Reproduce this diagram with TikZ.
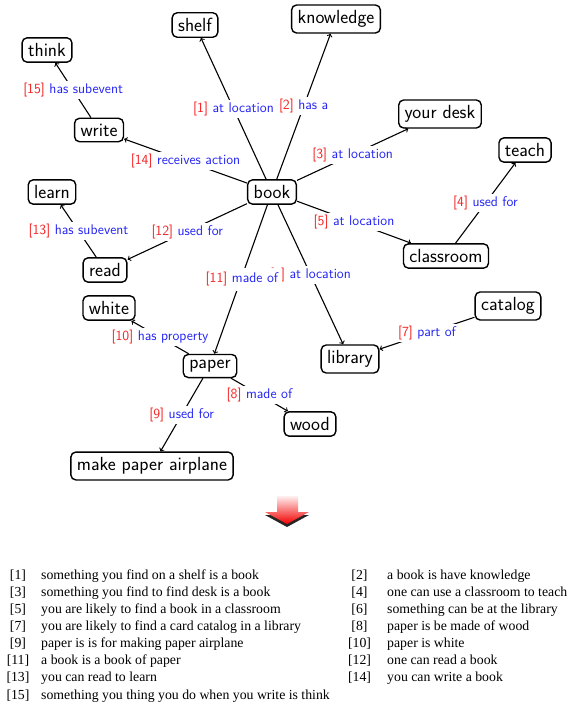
\documentclass[tikz,border=0pt]{standalone}
\usepackage{fontspec}
\newfontfamily\legendfont{Liberation Serif}
\definecolor{lred}{RGB}{245,35,35}
\definecolor{lblue}{RGB}{35,35,245}
\newcommand\lab[2]{\textcolor{lred}{[#1]} \textcolor{lblue}{#2}}
\begin{document}
\begin{tikzpicture}[x=1pt,y=-1pt,
  concept/.style={draw,rounded corners=5pt,line width=1.4pt,font=\fontsize{19}{21}\selectfont\sffamily,inner xsep=6pt,inner ysep=5.5pt,fill=white},
  edge/.style={line width=1.1pt,-to},
  lbl/.style={fill=white,inner sep=2pt,font=\fontsize{14}{16}\selectfont\sffamily},
  legnum/.style={anchor=base,inner sep=0pt,font=\legendfont\fontsize{13.8}{16}\selectfont},
  legtxt/.style={anchor=base west,inner sep=0pt,font=\legendfont\fontsize{13.8}{16}\selectfont},
]
\useasboundingbox (0,0) rectangle (571,704);
% concepts
\node[concept] (shelf) at (195,25) {shelf};
\node[concept] (knowledge) at (336,19) {knowledge};
\node[concept] (think) at (47,50) {think};
\node[concept] (write) at (99,130) {write};
\node[concept] (desk) at (440,114) {your desk};
\node[concept] (teach) at (525,150) {teach};
\node[concept] (book) at (272,192) {book};
\node[concept] (learn) at (52,192) {learn};
\node[concept] (read) at (105,270) {read};
\node[concept] (classroom) at (446,256) {classroom};
\node[concept] (catalog) at (508,306) {catalog};
\node[concept] (white) at (109,308) {white};
\node[concept] (library) at (350,359) {library};
\node[concept] (paper) at (210,366) {paper};
\node[concept] (wood) at (310,424) {wood};
\node[concept] (airplane) at (152,466) {make paper airplane};
% relations
\draw[edge] (book) -- node[lbl] {\lab{1}{at location}} (shelf);
\draw[edge] (book) -- node[lbl] {\lab{2}{has a}} (knowledge);
\draw[edge] (book) -- node[lbl] {\lab{3}{at location}} (desk);
\draw[edge] (classroom) -- node[lbl] {\lab{4}{used for}} (teach);
\draw[edge] (book) -- node[lbl] {\lab{5}{at location}} (classroom);
\draw[edge] (book) -- node[lbl] {\lab{6}{at location}} (library);
\draw[edge] (catalog) -- node[lbl] {\lab{7}{part of}} (library);
\draw[edge] (paper) -- node[lbl] {\lab{8}{made of}} (wood);
\draw[edge] (paper) -- node[lbl] {\lab{9}{used for}} (airplane);
\draw[edge] (paper) -- node[lbl] {\lab{10}{has property}} (white);
\draw[edge] (book) -- node[lbl,inner xsep=4pt,inner ysep=4.5pt,xshift=1pt] {\lab{11}{made of}} (paper);
\draw[edge] (book) -- node[lbl] {\lab{12}{used for}} (read);
\draw[edge] (read) -- node[lbl] {\lab{13}{has subevent}} (learn);
\draw[edge] (book) -- node[lbl] {\lab{14}{receives action}} (write);
\draw[edge] (write) -- node[lbl] {\lab{15}{has subevent}} (think);
% big red arrow
\fill[black!85] (278,505) -- (297,505) -- (297,515) -- (309,515) -- (287,527) -- (265,515) -- (278,515) -- cycle;
\shade[top color=red!6, bottom color=red!95!black] (277,496) -- (298,496) -- (298,512) -- (309,512) -- (287,524) -- (265,512) -- (277,512) -- cycle;
% legend
\foreach \n/\yy/\txt in {
  1/579/something you find on a shelf is a book,
  3/596.2/something you find to find desk is a book,
  5/613.3/you are likely to find a book in a classroom,
  7/630.5/you are likely to find a card catalog in a library,
  9/647.6/paper is is for making paper airplane,
  11/664.8/a book is a book of paper,
  13/681.9/you can read to learn,
  15/699/something you thing you do when you write is think} {
  \node[legnum] (ln\n) at (18,\yy) {[\n]};
  \node[legtxt] (lt\n) at (41,\yy) {\txt};
}
\foreach \n/\yy/\txt in {
  2/579/a book is have knowledge,
  4/596.2/one can use a classroom to teach,
  6/613.3/something can be at the library,
  8/630.5/paper is be made of wood,
  10/647.6/paper is white,
  12/664.8/one can read a book,
  14/681.9/you can write a book} {
  \node[legnum] (rn\n) at (359.5,\yy) {[\n]};
  \node[legtxt] (rt\n) at (387,\yy) {\txt};
}
\end{tikzpicture}
\end{document}
